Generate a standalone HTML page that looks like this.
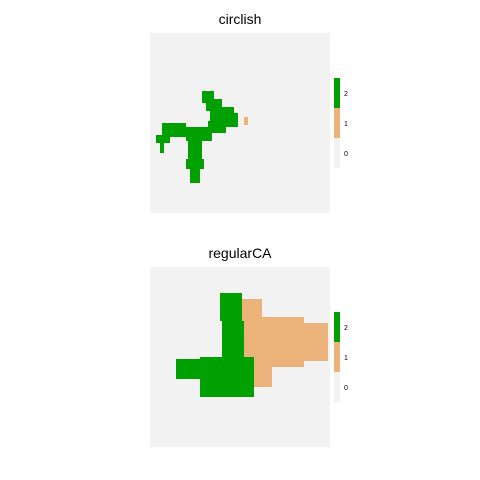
<!DOCTYPE html>
<html><head><meta charset="utf-8"><style>body{margin:0;background:#fff}svg{display:block}</style></head>
<body>
<svg id="s" width="480" height="480" xmlns="http://www.w3.org/2000/svg">
<text x="240" y="24" text-anchor="middle" font-family="Liberation Sans,sans-serif" font-size="14" fill="#000">circlish</text>
<text x="240" y="258" text-anchor="middle" font-family="Liberation Sans,sans-serif" font-size="14" fill="#000">regularCA</text>
</svg>
<script>
// rectangles of cells: [col0,row0,col1,row1,value]
const circlishRects=[[26,29,32,35,2],[28,33,36,39,2],[30,37,42,44,2],[33,40,44,47,2],[29,44,38,50,2],[6,45,18,52,2],[18,47,31,54,2],[3,51,10,55,2],[5,55,7,60,2],[19,53,26,63,2],[18,63,27,68,2],[20,68,25,75,2],[47,42,49,46,1]];
const regularRects=[[46,16,56,25,1],[45,25,77,50,1],[73,28,89,47,1],[50,50,61,60,1],[35,13,46,27,2],[36,27,47,45,2],[25,45,52,65,2],[13,46,33,56,2]];
const legendLabels=["2","1","0"];
const colors={0:"#f2f2f2",1:"#ebb27a",2:"#00a000"};
const NS="http://www.w3.org/2000/svg",svg=document.getElementById('s');
const cell=2;
function panel(rects,ox,oy,name,ly){
  const bg=document.createElementNS(NS,'rect');
  bg.setAttribute('x',ox);bg.setAttribute('y',oy);bg.setAttribute('width',180);bg.setAttribute('height',180);bg.setAttribute('fill',colors[0]);
  
  
  svg.appendChild(bg);
  const order=rects.slice().sort((a,b)=>a[4]-b[4]);
  order.forEach(r=>{
    const e=document.createElementNS(NS,'rect');
    e.setAttribute('x',ox+r[0]*cell);e.setAttribute('y',oy+r[1]*cell);
    e.setAttribute('width',(r[2]-r[0])*cell);e.setAttribute('height',(r[3]-r[1])*cell);
    e.setAttribute('fill',colors[r[4]]);
    
    
    svg.appendChild(e);
  });
  legendLabels.forEach((l,i)=>{
    const k=document.createElementNS(NS,'rect');
    k.setAttribute('x',334);k.setAttribute('y',ly+i*30);k.setAttribute('width',6);k.setAttribute('height',30);k.setAttribute('fill',colors[+l]);
    
    
    svg.appendChild(k);
    const t=document.createElementNS(NS,'text');
    t.setAttribute('x',344);t.setAttribute('y',ly+i*30+18);t.setAttribute('font-size','7');t.setAttribute('font-family','Liberation Sans,sans-serif');
    t.textContent=l;
    
    
    svg.appendChild(t);
  });
}
panel(circlishRects,150,33,'circlish',78);
panel(regularRects,150,267,'regularca',312);
</script>
</body></html>
